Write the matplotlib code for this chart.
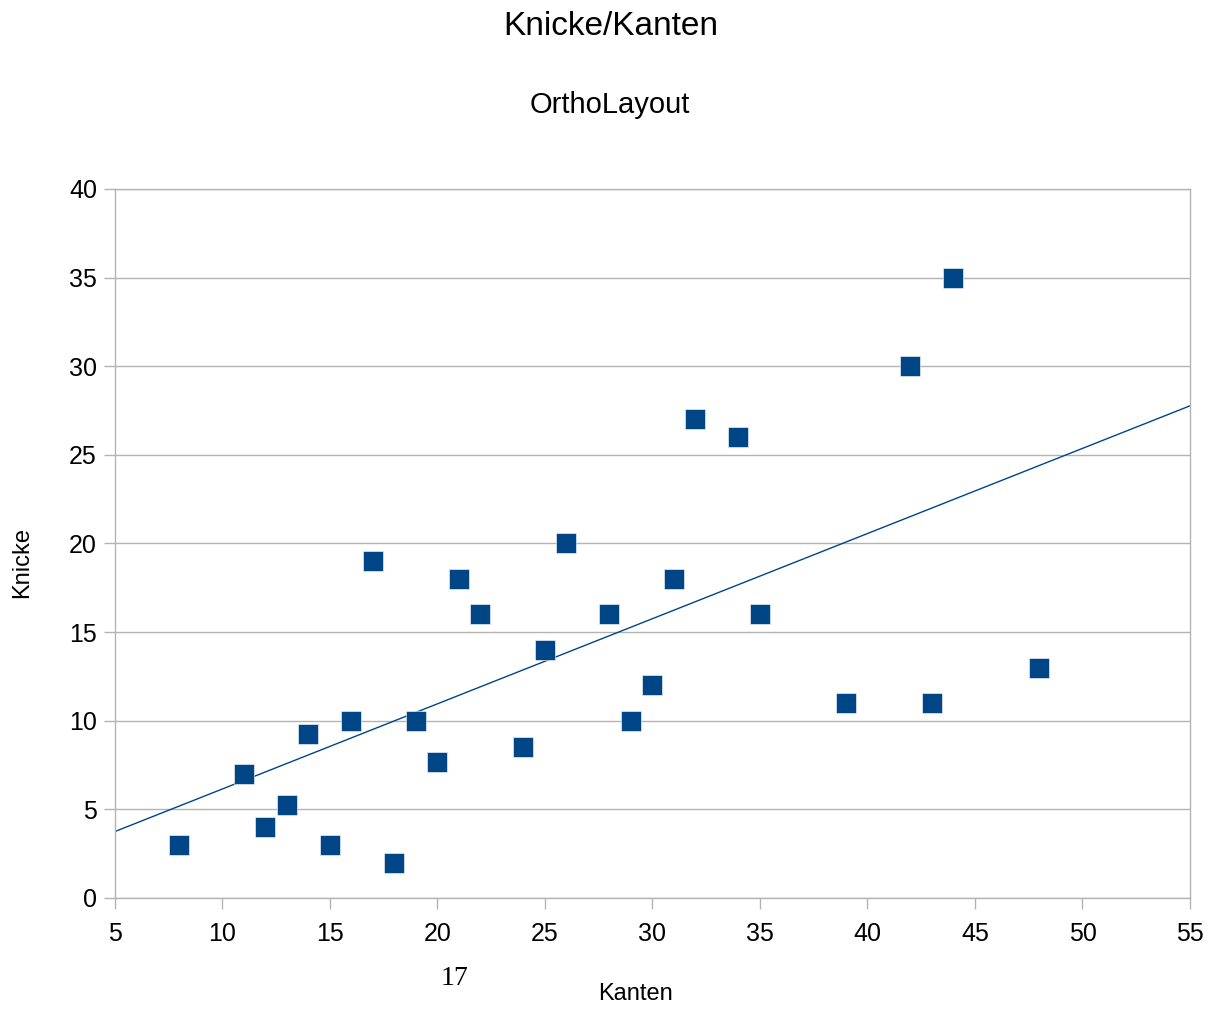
import numpy as np
from matplotlib import pyplot as plt

plt.rcParams['font.family'] = ['Liberation Sans', 'DejaVu Sans']

kanten = [8, 11, 12, 13, 14, 15, 16, 17, 18, 19, 20, 21, 22, 24, 25, 26,
          28, 29, 30, 31, 32, 34, 35, 39, 42, 43, 44, 48]
knicke = [3, 7, 4, 5.25, 9.25, 3, 10, 19, 2, 10, 7.67, 18, 16, 8.5, 14, 20,
          16, 10, 12, 18, 27, 26, 16, 11, 30, 11, 35, 13]
x_ticks = [5, 10, 15, 20, 25, 30, 35, 40, 45, 50, 55]
y_ticks = [0, 5, 10, 15, 20, 25, 30, 35, 40]

blue = '#004586'
grey = '#b3b3b3'

fig = plt.figure(figsize=(12.23, 10.10), dpi=100)
ax = fig.add_axes([0.094, 0.1109, 0.879, 0.702])

# linear trend line over the full x range
slope, intercept = np.polyfit(kanten, knicke, 1)
xs = np.array([x_ticks[0], x_ticks[-1]])
ax.plot(xs, slope * xs + intercept, color=blue, lw=1, zorder=2)

ax.plot(kanten, knicke, 's', color=blue, ms=14.5, mec='white', mew=0.4,
        zorder=3, clip_on=False)

ax.set_xlim(x_ticks[0], x_ticks[-1])
ax.set_ylim(y_ticks[0], y_ticks[-1])
ax.set_xticks(x_ticks)
ax.set_yticks(y_ticks)
ax.tick_params(labelsize=18, length=8, width=1, color=grey)
ax.tick_params(axis='x', pad=9)
ax.tick_params(axis='y', pad=5)
ax.grid(axis='y', color=grey, lw=1)
ax.set_axisbelow(True)
for s in ax.spines.values():
    s.set_color(grey)
    s.set_linewidth(1)

fig.text(0.499, 0.974, 'Knicke/Kanten', ha='center', va='center', fontsize=24)
fig.text(0.499, 0.896, 'OrthoLayout', ha='center', va='center', fontsize=21)
fig.text(0.52, 0.016, 'Kanten', ha='center', va='center', fontsize=17)
fig.text(0.018, 0.443, 'Knicke', ha='center', va='center', fontsize=17, rotation=90)
fig.text(0.372, 0.031, '17', ha='center', va='center', fontsize=20,
         family='Liberation Serif')

fig.savefig('out.png', dpi=100)
